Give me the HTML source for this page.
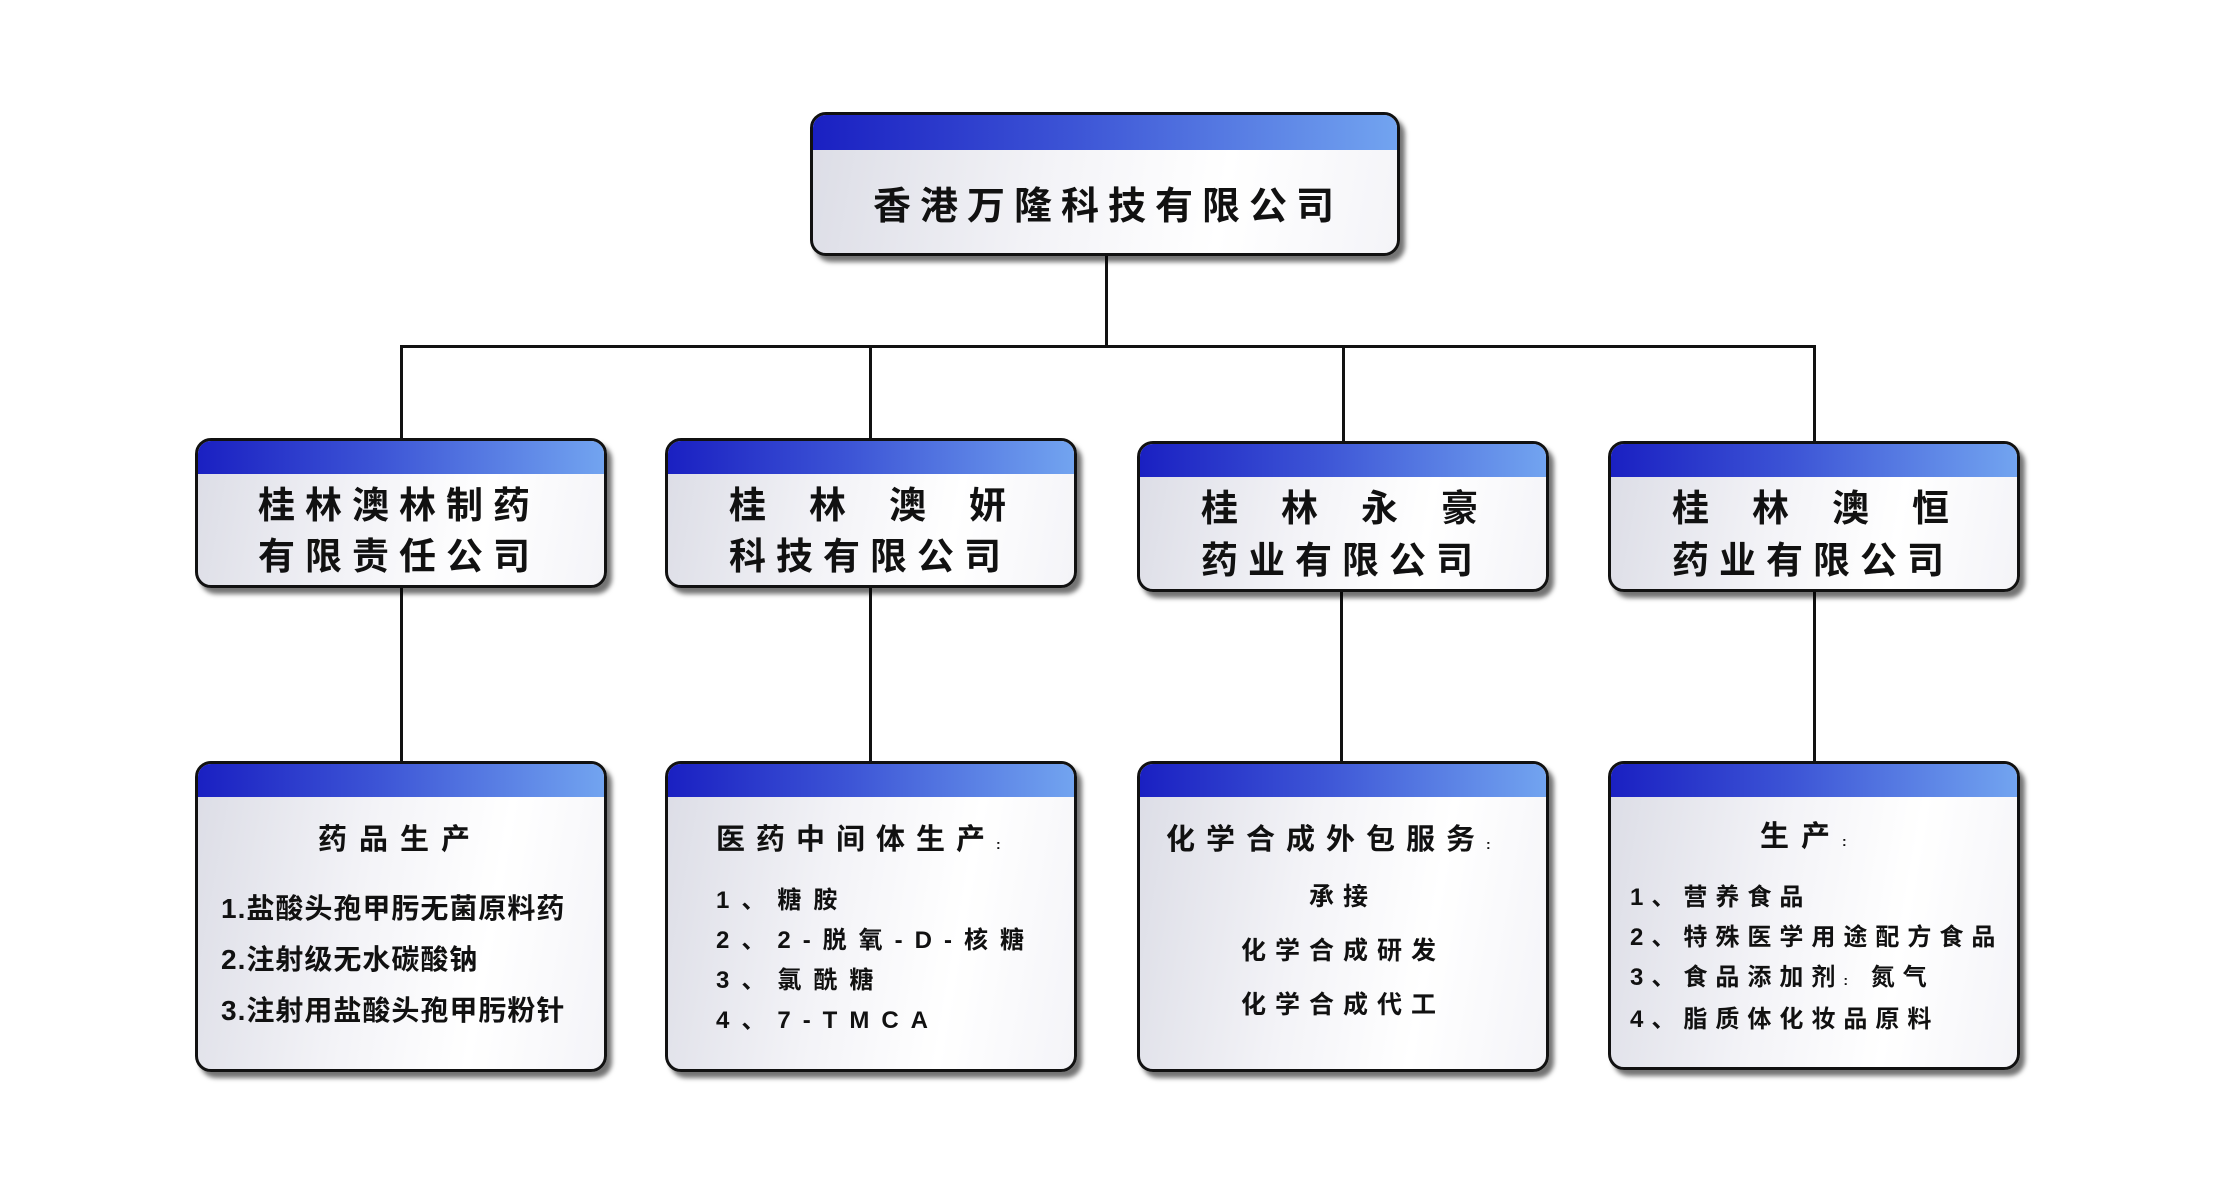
<!DOCTYPE html>
<html><head><meta charset="utf-8">
<style>
html,body{margin:0;padding:0;background:#fff;}
body{width:2222px;height:1189px;position:relative;overflow:hidden;font-family:"Liberation Sans","Noto Sans CJK SC",sans-serif;font-weight:bold;color:#111;}
.box{position:absolute;box-sizing:border-box;border:3px solid #111;border-radius:16px;overflow:hidden;
background:linear-gradient(100deg,#dcdde6 0%,#f3f3f7 40%,#ffffff 70%,#f4f4f8 100%);box-shadow:5px 6px 5px rgba(0,0,0,0.55);}
.hd{position:absolute;left:0;right:0;top:0;height:33px;background:linear-gradient(90deg,#1a20c2 0%,#3d55d6 45%,#72a4f0 100%);}
.ln{position:absolute;background:#111;}
.t{position:absolute;white-space:nowrap;}
</style></head><body>
<!-- connectors -->
<div class="ln" style="left:1105px;top:255px;width:3px;height:92px"></div>
<div class="ln" style="left:400px;top:345px;width:1416px;height:3px"></div>
<div class="ln" style="left:400px;top:345px;width:3px;height:95px"></div>
<div class="ln" style="left:869px;top:345px;width:3px;height:95px"></div>
<div class="ln" style="left:1342px;top:345px;width:3px;height:98px"></div>
<div class="ln" style="left:1813px;top:345px;width:3px;height:98px"></div>
<div class="ln" style="left:400px;top:587px;width:3px;height:176px"></div>
<div class="ln" style="left:869px;top:587px;width:3px;height:176px"></div>
<div class="ln" style="left:1340px;top:590px;width:3px;height:173px"></div>
<div class="ln" style="left:1813px;top:590px;width:3px;height:173px"></div>

<!-- top -->
<div class="box" style="left:810px;top:112px;width:590px;height:144px"><div class="hd" style="height:35px"></div></div>
<div class="t" style="left:873px;top:175px;font-size:38px;letter-spacing:9px;">香港万隆科技有限公司</div>

<!-- mid -->
<div class="box" style="left:195px;top:438px;width:412px;height:150px"><div class="hd"></div></div>
<div class="box" style="left:665px;top:438px;width:412px;height:150px"><div class="hd"></div></div>
<div class="box" style="left:1137px;top:441px;width:412px;height:151px"><div class="hd"></div></div>
<div class="box" style="left:1608px;top:441px;width:412px;height:151px"><div class="hd"></div></div>

<div class="t" style="left:258px;top:480px;font-size:37px;letter-spacing:10px;line-height:51px;">桂林澳林制药<br>有限责任公司</div>
<div class="t" style="left:729px;top:480px;font-size:37px;line-height:51px;"><span style="letter-spacing:43px">桂林澳</span>妍<br><span style="letter-spacing:10px">科技有限公司</span></div>
<div class="t" style="left:1201px;top:483px;font-size:37px;line-height:52px;"><span style="letter-spacing:43px">桂林永</span>豪<br><span style="letter-spacing:10px">药业有限公司</span></div>
<div class="t" style="left:1672px;top:483px;font-size:37px;line-height:52px;"><span style="letter-spacing:43px">桂林澳</span>恒<br><span style="letter-spacing:10px">药业有限公司</span></div>

<!-- bottom -->
<div class="box" style="left:195px;top:761px;width:412px;height:311px"><div class="hd"></div></div>
<div class="box" style="left:665px;top:761px;width:412px;height:311px"><div class="hd"></div></div>
<div class="box" style="left:1137px;top:761px;width:412px;height:311px"><div class="hd"></div></div>
<div class="box" style="left:1608px;top:761px;width:412px;height:309px"><div class="hd"></div></div>

<div class="t" style="left:318px;top:816px;font-size:29px;letter-spacing:12px;">药品生产</div>
<div class="t" style="left:221px;top:883px;font-size:28px;line-height:51px;letter-spacing:1px;">1.盐酸头孢甲肟无菌原料药<br>2.注射级无水碳酸钠<br>3.注射用盐酸头孢甲肟粉针</div>

<div class="t" style="left:716px;top:816px;font-size:29px;letter-spacing:11px;">医药中间体生产<span style="font-size:14px">:</span></div>
<div class="t" style="left:716px;top:881px;font-size:24px;line-height:40px;letter-spacing:12px;">1、糖胺<br>2、2-脱氧-D-核糖<br>3、氯酰糖<br>4、7-TMCA</div>

<div class="t" style="left:1166px;top:816px;font-size:29px;letter-spacing:11px;">化学合成外包服务<span style="font-size:14px">:</span></div>
<div class="t" style="left:1137px;width:412px;text-align:center;top:870px;font-size:25px;line-height:54px;letter-spacing:9px;">承接<br>化学合成研发<br>化学合成代工</div>

<div class="t" style="left:1760px;top:813px;font-size:29px;letter-spacing:12px;">生产<span style="font-size:14px">:</span></div>
<div class="t" style="left:1630px;top:878px;font-size:24px;line-height:40px;letter-spacing:8px;">1、营养食品<br>2、特殊医学用途配方食品<br>3、食品添加剂<span style="font-size:14px">:</span> 氮气<br>4、脂质体化妆品原料</div>
</body></html>
